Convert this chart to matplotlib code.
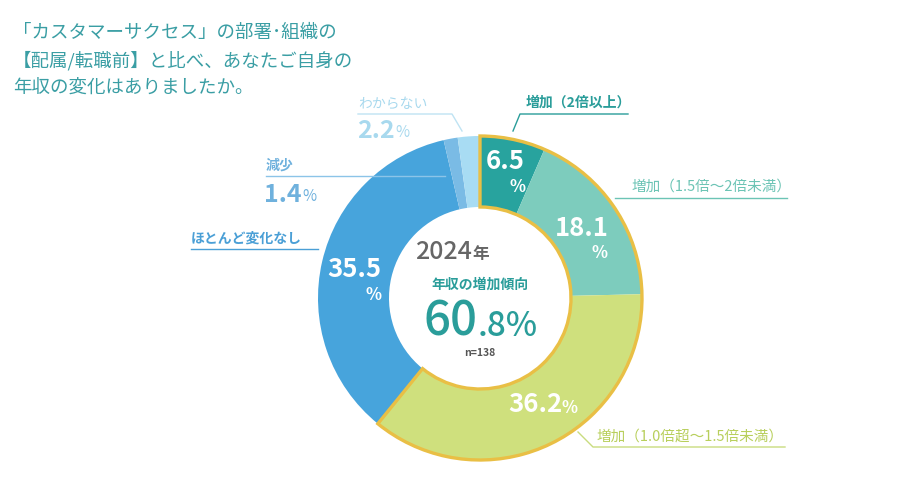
import matplotlib
matplotlib.use("Agg")
import matplotlib.pyplot as plt
from matplotlib.patches import Wedge

plt.rcParams['font.family'] = ['Noto Sans CJK JP', 'DejaVu Sans']

# ---- data ----
categories = ['増加（2倍以上）', '増加（1.5倍～2倍未満）', '増加（1.0倍超～1.5倍未満）',
              'ほとんど変化なし', '減少', 'わからない']
values = [6.5, 18.1, 36.2, 35.5, 1.4, 2.2]
increase_total = 60.8
year_label = '2024'
n_label = 'n=138'
title_lines = ['「カスタマーサクセス」の部署･組織の',
               '【配属/転職前】と比べ、あなたご自身の',
               '年収の変化はありましたか。']

# ---- style ----
colors = ['#28a39e', '#7dccbd', '#cfe07d', '#47a4dc', '#7abbe5', '#a8dcf3']
label_colors = ['#2a9d9a', '#6cc4b5', '#b8cf5c', '#4a9fd6', '#6fb1dd', '#a8d9ee']
gold = '#e9bf45'
W, H = 924, 489
CX, CY, R_OUT, R_IN = 480, 299, 162, 91

def Y(y):
    return H - y

fig = plt.figure(figsize=(W / 100, H / 100), dpi=100)
ax = fig.add_axes([0, 0, 1, 1])
ax.pie(values, colors=colors, startangle=90, counterclock=False,
       center=(CX, Y(CY)), radius=R_OUT,
       wedgeprops=dict(width=R_OUT - R_IN, edgecolor='none', linewidth=0))
ax.set_xlim(0, W)
ax.set_ylim(0, H)
ax.set_aspect('equal')
ax.axis('off')

# gold outline around the increase segments
frac = sum(values[:3]) / sum(values)
ax.add_patch(Wedge((CX, Y(CY)), R_OUT, 90 - 360 * frac, 90, width=R_OUT - R_IN,
                   fill=False, edgecolor=gold, linewidth=2.4, zorder=5))

# title
for i, line in enumerate(title_lines):
    ax.text(13, Y(33 + 27.5 * i), line, fontsize=13.3, color='#3a9ea4',
            va='center', ha='left')

# center texts
ax.text(472, Y(252), year_label, fontsize=18, color='#666666', ha='right',
        va='center', fontweight='medium')
ax.text(472, Y(254), '年', fontsize=12, color='#666666', ha='left',
        va='center', fontweight='bold')
ax.text(480, Y(285), '年収の増加傾向', fontsize=10, color='#2a9d9a', ha='center',
        va='center', fontweight='bold')
num = f'{increase_total:.1f}'
ip, dp = num.split('.')
ax.text(478, Y(322), ip, fontsize=34, color='#2a9d9a', ha='right', va='center',
        fontweight='medium')
ax.text(478, Y(327), '.' + dp + '%', fontsize=24, color='#2a9d9a', ha='left',
        va='center', fontweight='medium')
ax.text(480, Y(353), n_label, fontsize=7.5, color='#555555', ha='center',
        va='center', fontweight='bold')

# in-ring value labels
wt = dict(color='white', fontweight='bold', va='center')
# 6.5 (stacked)
ax.text(505, Y(162), f'{values[0]}', fontsize=18.5, ha='center', **wt)
ax.text(518, Y(187), '%', fontsize=12, ha='center', **wt)
# 18.1 (stacked)
ax.text(582, Y(229), f'{values[1]}', fontsize=18.5, ha='center', **wt)
ax.text(599, Y(253), '%', fontsize=12, ha='center', **wt)
# 36.2 inline
ax.text(562, Y(405), f'{values[2]}', fontsize=18.5, ha='right', **wt)
ax.text(562, Y(408), '%', fontsize=12, ha='left', **wt)
# 35.5 stacked
ax.text(354, Y(270), f'{values[3]}', fontsize=18.5, ha='center', **wt)
ax.text(373, Y(295), '%', fontsize=12, ha='center', **wt)

# outside labels
lt = dict(fontsize=10, va='center', ha='left')
# わからない
ax.text(358, Y(104), categories[5], color=label_colors[5], **lt)
ax.plot([358, 452, 462], [Y(115), Y(115), Y(132)], color='#bfe3f3', lw=1)
ax.text(395, Y(131), f'{values[5]}', fontsize=18, color=label_colors[5],
        ha='right', va='center', fontweight='bold')
ax.text(395, Y(133), '%', fontsize=11, color=label_colors[5], ha='left', va='center')
# 減少
ax.text(266, Y(166), categories[4], color=label_colors[4], fontweight='bold', **lt)
ax.plot([266, 445], [Y(177), Y(177)], color='#8cc4e8', lw=1, zorder=6)
ax.text(302, Y(195), f'{values[4]}', fontsize=18, color=label_colors[4],
        ha='right', va='center', fontweight='bold')
ax.text(302, Y(197), '%', fontsize=11, color=label_colors[4], ha='left', va='center')
# ほとんど変化なし
ax.text(191, Y(239), categories[3], color=label_colors[3], fontweight='bold', **lt)
ax.plot([191, 318], [Y(250), Y(250)], color='#4a9fd6', lw=1)
# 増加（2倍以上）
ax.text(526, Y(103), categories[0], color=label_colors[0], fontweight='bold', **lt)
ax.plot([513, 520, 628], [Y(132), Y(115), Y(115)], color='#2a9d9a', lw=1)
# 増加（1.5倍～2倍未満）
ax.text(632, Y(187), categories[1], color=label_colors[1], fontsize=10.5,
        va='center', ha='left')
ax.plot([615, 787], [Y(199), Y(199)], color='#6cc4b5', lw=1)
# 増加（1.0倍超～1.5倍未満）
ax.text(597, Y(437), categories[2], color=label_colors[2], fontsize=10.5,
        va='center', ha='left')
ax.plot([578, 593, 785], [Y(433), Y(448), Y(448)], color='#c9dc7f', lw=1)

fig.savefig('out.png', dpi=100, facecolor='white')
